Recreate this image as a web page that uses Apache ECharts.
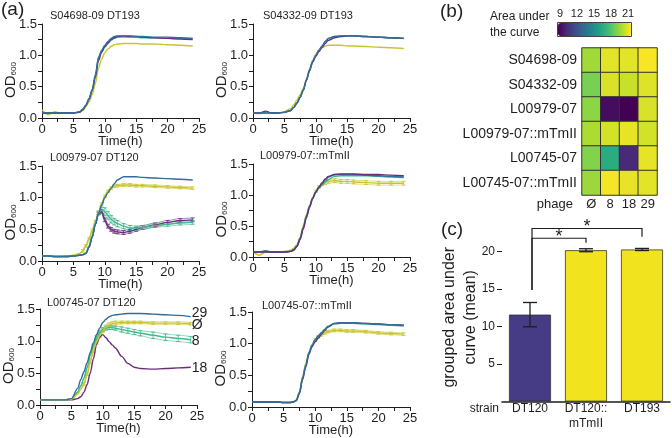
<!DOCTYPE html>
<html><head><meta charset="utf-8">
<script src="https://cdn.jsdelivr.net/npm/echarts@6/dist/echarts.min.js"></script>
<style>html,body{margin:0;padding:0;background:#fff}#c{width:672px;height:438px}</style>
</head><body><div id="c"></div>
<script>
// ---------- DATA ----------
const hours = [0,1,2,3,4,5,6, 6.5,7,7.5,8,8.5,9,9.5,10,10.5,11,11.5,12, 13,14,15,16, 18,20,22,24];

// (a) S04698-09 DT193
const s1Blue   = [0.08,0.08,0.08,0.08,0.08,0.08,0.10, 0.14,0.21,0.31,0.45,0.68,0.96,1.08,1.16,1.22,1.27,1.30,1.31, 1.31,1.31,1.30,1.30, 1.29,1.29,1.28,1.27];
const s1Purple = [0.08,0.08,0.08,0.08,0.08,0.08,0.09, 0.13,0.20,0.30,0.44,0.65,0.92,1.05,1.14,1.20,1.25,1.28,1.30, 1.31,1.30,1.30,1.29, 1.28,1.27,1.26,1.25];
const s1Green  = [0.08,0.08,0.08,0.08,0.08,0.08,0.10, 0.14,0.21,0.31,0.46,0.70,0.98,1.06,1.13,1.19,1.24,1.27,1.29, 1.29,1.29,1.29,1.28, 1.28,1.27,1.27,1.27];
const s1Yellow = [0.13,0.05,0.10,0.08,0.08,0.08,0.09, 0.12,0.18,0.26,0.37,0.55,0.80,0.94,1.04,1.10,1.14,1.17,1.18, 1.19,1.19,1.19,1.18, 1.18,1.17,1.16,1.15];
// S04332-09 DT193
const s2Blue   = [0.08,0.08,0.08,0.08,0.08,0.09,0.12, 0.17,0.24,0.33,0.44,0.60,0.76,0.90,1.00,1.08,1.15,1.22,1.27, 1.30,1.31,1.31,1.31, 1.30,1.29,1.28,1.27];
const s2Purple = [0.08,0.08,0.11,0.08,0.08,0.09,0.12, 0.17,0.24,0.33,0.44,0.60,0.75,0.89,0.98,1.06,1.13,1.19,1.24, 1.28,1.30,1.31,1.31, 1.30,1.29,1.28,1.27];
const s2Green  = [0.08,0.08,0.08,0.08,0.08,0.09,0.12, 0.17,0.24,0.33,0.45,0.61,0.77,0.91,1.00,1.08,1.15,1.22,1.27, 1.30,1.31,1.31,1.31, 1.30,1.29,1.28,1.27];
const s2Yellow = [0.08,0.07,0.09,0.08,0.08,0.10,0.15, 0.21,0.29,0.37,0.47,0.62,0.78,0.92,1.02,1.08,1.12,1.15,1.16, 1.16,1.16,1.15,1.15, 1.14,1.13,1.12,1.11];
// L00979-07 DT120
const s3Blue   = [0.08,0.08,0.07,0.07,0.07,0.08,0.09, 0.10,0.12,0.22,0.38,0.58,0.75,0.88,1.00,1.08,1.15,1.22,1.28, 1.33,1.33,1.33,1.32, 1.31,1.30,1.29,1.28];
const s3Yellow = [0.08,0.08,0.07,0.07,0.08,0.09,0.12, 0.16,0.24,0.35,0.48,0.62,0.76,0.90,1.02,1.10,1.15,1.18,1.19, 1.20,1.20,1.19,1.19, 1.18,1.17,1.16,1.15];
const s3Purple = [0.08,0.08,0.07,0.07,0.07,0.08,0.09, 0.10,0.12,0.22,0.38,0.58,0.75,0.78,0.65,0.55,0.50,0.47,0.46, 0.45,0.47,0.50,0.53, 0.57,0.61,0.64,0.65];
const s3Green  = [0.08,0.08,0.07,0.07,0.07,0.08,0.09, 0.10,0.13,0.24,0.40,0.60,0.76,0.80,0.78,0.72,0.66,0.62,0.59, 0.55,0.52,0.52,0.53, 0.56,0.58,0.60,0.61];
const s3YellowErr = [0,0,0,0,0,0,0, 0.02,0.02,0.02,0.02,0.02,0.02,0.02,0.02,0.02,0.02,0.02,0.02, 0.02,0.02,0.02,0.02, 0.02,0.02,0.02,0.02];
const s3PurpleErr = [0,0,0,0,0,0,0, 0,0,0,0,0,0.02,0.03,0.03,0.03,0.03,0.03,0.03, 0.03,0.03,0.03,0.03, 0.03,0.03,0.03,0.03];
const s3GreenErr  = [0,0,0,0,0,0,0, 0,0,0,0,0,0.03,0.05,0.06,0.06,0.06,0.05,0.05, 0.04,0.04,0.03,0.03, 0.03,0.03,0.03,0.03];
// L00979-07::mTmII
const s4Blue   = [0.08,0.08,0.10,0.08,0.08,0.08,0.09, 0.12,0.18,0.30,0.47,0.65,0.81,0.95,1.05,1.12,1.18,1.24,1.29, 1.33,1.33,1.33,1.33, 1.32,1.31,1.30,1.29];
const s4Purple = [0.08,0.08,0.08,0.08,0.08,0.08,0.09, 0.11,0.17,0.28,0.45,0.63,0.80,0.94,1.05,1.13,1.20,1.26,1.30, 1.33,1.34,1.34,1.34, 1.33,1.33,1.32,1.31];
const s4Green  = [0.08,0.08,0.08,0.08,0.08,0.08,0.09, 0.12,0.18,0.30,0.47,0.66,0.82,0.95,1.04,1.11,1.16,1.21,1.25, 1.30,1.31,1.31,1.31, 1.31,1.30,1.29,1.28];
const s4Yellow = [0.08,0.03,0.08,0.08,0.08,0.09,0.11, 0.14,0.20,0.32,0.50,0.68,0.83,0.96,1.06,1.13,1.17,1.20,1.22, 1.23,1.22,1.22,1.21, 1.20,1.19,1.19,1.19];
const s4YellowErr = [0,0,0,0,0,0,0, 0,0,0,0,0,0,0,0.02,0.02,0.02,0.03,0.03, 0.03,0.03,0.03,0.03, 0.03,0.03,0.03,0.03];
// L00745-07 DT120
const s5Blue   = [0.08,0.08,0.08,0.08,0.08,0.10,0.26, 0.40,0.52,0.66,0.82,0.97,1.10,1.20,1.29,1.34,1.38,1.40,1.41, 1.42,1.43,1.43,1.43, 1.42,1.41,1.40,1.38];
const s5Yellow = [0.08,0.08,0.08,0.08,0.08,0.09,0.17, 0.25,0.33,0.48,0.68,0.85,0.98,1.08,1.16,1.22,1.25,1.27,1.28, 1.29,1.29,1.29,1.29, 1.28,1.28,1.28,1.27];
const s5Green  = [0.08,0.08,0.08,0.08,0.08,0.09,0.20, 0.30,0.42,0.58,0.78,0.93,1.05,1.13,1.18,1.20,1.21,1.21,1.20, 1.18,1.16,1.14,1.12, 1.09,1.06,1.04,1.02];
const s5Purple = [0.08,0.08,0.08,0.08,0.08,0.08,0.10, 0.13,0.20,0.32,0.50,0.72,0.95,1.06,1.10,1.05,0.99,0.94,0.89, 0.76,0.65,0.59,0.57, 0.56,0.57,0.58,0.59];
const s5YellowErr = [0,0,0,0,0,0,0, 0,0.02,0.02,0.03,0.03,0.03,0.03,0.03,0.03,0.03,0.03,0.03, 0.02,0.02,0.02,0.02, 0.02,0.02,0.02,0.02];
const s5GreenErr  = [0,0,0,0,0,0,0, 0,0,0,0,0.02,0.03,0.03,0.03,0.03,0.03,0.03,0.03, 0.04,0.04,0.04,0.04, 0.05,0.05,0.05,0.05];
// L00745-07::mTmII
const s6Blue   = [0.08,0.08,0.08,0.08,0.08,0.07,0.07, 0.08,0.10,0.22,0.45,0.65,0.85,0.97,1.06,1.12,1.17,1.22,1.27, 1.32,1.33,1.33,1.33, 1.32,1.31,1.30,1.29];
const s6Purple = [0.08,0.08,0.08,0.08,0.08,0.07,0.07, 0.08,0.10,0.21,0.43,0.63,0.83,0.95,1.03,1.09,1.15,1.21,1.26, 1.32,1.33,1.33,1.33, 1.32,1.31,1.30,1.29];
const s6Green  = [0.08,0.08,0.08,0.08,0.08,0.07,0.07, 0.08,0.10,0.22,0.46,0.66,0.86,0.98,1.07,1.13,1.18,1.23,1.27, 1.31,1.32,1.32,1.32, 1.31,1.30,1.29,1.28];
const s6Yellow = [0.08,0.08,0.08,0.08,0.08,0.07,0.07, 0.08,0.11,0.24,0.48,0.68,0.86,0.98,1.06,1.11,1.14,1.17,1.19, 1.21,1.21,1.20,1.20, 1.19,1.17,1.16,1.15];
const s6YellowErr = [0,0,0,0,0,0,0, 0,0,0,0,0,0,0,0.02,0.02,0.02,0.02,0.02, 0.02,0.02,0.02,0.02, 0.02,0.02,0.02,0.02];

const xTicksA = [0, 25, 5];
const yTicksA = [0, 1.5, 0.5];

// (b) heatmap
const strains = ['S04698-09','S04332-09','L00979-07','L00979-07::mTmII','L00745-07','L00745-07::mTmII'];
const phages = ['Ø','8','18','29'];
const aucS04698  = [19.3, 20.5, 20.5, 20.9];
const aucS04332  = [18.5, 20.3, 20.0, 20.4];
const aucL00979  = [18.9, 9.4, 9.0, 20.3];
const aucL00979m = [19.5, 20.2, 20.6, 20.2];
const aucL00745  = [18.7, 16.4, 10.4, 20.6];
const aucL00745m = [19.2, 20.8, 20.6, 20.5];
const aucMin = 9, aucMax = 21;
const colorbarTicks = [9, 12, 15, 18, 21];

// (c) bars
const strainsC = ['DT120', 'DT120::\nmTmII', 'DT193'];
const meanAUC  = [11.6, 20.2, 20.3];
const semAUC   = [1.62, 0.20, 0.14];
const yTicksC  = [5, 10, 15, 20];
const sigFrom  = [0, 0];
const sigTo    = [1, 2];
const sigBarY  = [21.8, 23.1];
const sigDropY = [21.2, 22.0];
const sigStartY = 14.9;
const sigMark = '*';

// ---------- STYLE / LAYOUT ----------
const FF = '"Liberation Sans", Arial, Helvetica, sans-serif';
const INK = '#1e1e1e';
const COL = {blue:'#2f6e9d', purple:'#6b2c7e', green:'#3cba8b', yellow:'#c6c62c'};
const viridis = ['#440154','#482878','#3e4989','#31688e','#26828e','#1f9e89','#35b779','#6ece58','#b5de2b','#fde725'];
const barColors = ['#453c85', '#f1e31e', '#f1e31e'];
const endLabelShift = {'29':-4, 'Ø':1.5, '8':1, '18':1};

const panelsA = [
  {name:'S04698-09 DT193',  g:{left:42, top:24, width:157, height:94}, t:[50,10.5],
   curves:[['yellow',s1Yellow,null],['green',s1Green,null],['purple',s1Purple,null],['blue',s1Blue,null]]},
  {name:'S04332-09 DT193',  g:{left:253, top:24, width:157, height:94}, t:[263,10.5],
   curves:[['yellow',s2Yellow,null],['green',s2Green,null],['purple',s2Purple,null],['blue',s2Blue,null]]},
  {name:'L00979-07 DT120',  g:{left:42, top:166, width:157, height:95}, t:[50,152.5],
   curves:[['yellow',s3Yellow,s3YellowErr],['purple',s3Purple,s3PurpleErr],['green',s3Green,s3GreenErr],['blue',s3Blue,null]]},
  {name:'L00979-07::mTmII', g:{left:253, top:164, width:157, height:93}, t:[260,150],
   curves:[['yellow',s4Yellow,s4YellowErr],['green',s4Green,null],['blue',s4Blue,null],['purple',s4Purple,null]]},
  {name:'L00745-07 DT120',  g:{left:40, top:309, width:157, height:96}, t:[47,297.5],
   curves:[['purple',s5Purple,null,'18'],['green',s5Green,s5GreenErr,'8'],['yellow',s5Yellow,s5YellowErr,'Ø'],['blue',s5Blue,null,'29']]},
  {name:'L00745-07::mTmII', g:{left:252, top:312, width:158, height:95}, t:[262,300],
   curves:[['yellow',s6Yellow,s6YellowErr],['green',s6Green,null],['purple',s6Purple,null],['blue',s6Blue,null]]},
];

const grids = [], xAxes = [], yAxes = [], series = [], titles = [];
const axLine = {lineStyle:{color:INK, width:1}};

titles.push({text:'(a)', left:1, top:0, padding:0, textStyle:{fontSize:19, fontWeight:'normal', color:INK, fontFamily:FF}});
titles.push({text:'(b)', left:440, top:2, padding:0, textStyle:{fontSize:19, fontWeight:'normal', color:INK, fontFamily:FF}});
titles.push({text:'(c)', left:441, top:220, padding:0, textStyle:{fontSize:19, fontWeight:'normal', color:INK, fontFamily:FF}});
titles.push({text:'Area under\nthe curve', left:490, top:9, padding:0, textStyle:{fontSize:12, lineHeight:16, fontWeight:'normal', color:INK, fontFamily:FF}});

function errBars(gi, vals, errs, color) {
  const data = [];
  hours.forEach((h,k)=>{ if (errs[k] > 0) data.push([h, vals[k], errs[k]]); });
  return {type:'custom', xAxisIndex:gi, yAxisIndex:gi, silent:true, z:2, data,
    renderItem:(p, api)=>{
      const x = api.value(0), v = api.value(1), e = api.value(2);
      const lo = api.coord([x, v-e]), hi = api.coord([x, v+e]);
      const st = {stroke:color, lineWidth:1, opacity:0.8};
      return {type:'group', children:[
        {type:'line', shape:{x1:lo[0],y1:lo[1],x2:hi[0],y2:hi[1]}, style:st},
        {type:'line', shape:{x1:lo[0]-2,y1:lo[1],x2:lo[0]+2,y2:lo[1]}, style:st},
        {type:'line', shape:{x1:hi[0]-2,y1:hi[1],x2:hi[0]+2,y2:hi[1]}, style:st}]};
    }};
}

panelsA.forEach((pn, i) => {
  grids.push(Object.assign({outerBoundsMode:'none', containLabel:false}, pn.g));
  xAxes.push({gridIndex:i, type:'value', min:xTicksA[0], max:xTicksA[1], interval:xTicksA[2],
    axisLine:axLine, axisTick:{length:4, lineStyle:{color:INK}},
    minorTick:{show:true, splitNumber:2, length:4, lineStyle:{color:INK}},
    splitLine:{show:false}, minorSplitLine:{show:false},
    axisLabel:{fontSize:13, margin:5, color:INK, fontFamily:FF},
    name:'Time(h)', nameLocation:'middle', nameGap:17, nameMoveOverlap:false,
    nameTextStyle:{fontSize:13, color:INK, fontFamily:FF}});
  yAxes.push({gridIndex:i, type:'value', min:yTicksA[0], max:yTicksA[1], interval:yTicksA[2],
    axisLine:Object.assign({show:true}, axLine), axisTick:{show:true, length:4, lineStyle:{color:INK}},
    minorTick:{show:true, splitNumber:2, length:4, lineStyle:{color:INK}},
    splitLine:{show:false}, minorSplitLine:{show:false},
    axisLabel:{fontSize:13, margin:5, color:INK, fontFamily:FF, formatter:v=>v.toFixed(1)},
    name:'{a|OD}{b|600}', nameLocation:'middle', nameGap:24, nameMoveOverlap:false,
    nameTextStyle:{padding:[0,18,0,0], rich:{a:{fontSize:15, color:INK, fontFamily:FF},
      b:{fontSize:8, color:INK, fontFamily:FF, verticalAlign:'bottom', padding:[5,0,0,0]}}}});
  titles.push({text:pn.name, left:pn.t[0], top:pn.t[1], padding:0,
    textStyle:{fontSize:11, fontWeight:'normal', color:INK, fontFamily:FF}});
  pn.curves.forEach(([c, vals, errs, lab]) => {
    const color = COL[c];
    if (errs) {
      series.push(errBars(i, vals, errs, color));
      series.push({type:'line', xAxisIndex:i, yAxisIndex:i, silent:true, showSymbol:false, z:2,
        smooth:0.3, smoothMonotone:'x', lineStyle:{width:0.8, color, opacity:0.7},
        data:hours.map((h,k)=>[h, vals[k]+errs[k]])});
      series.push({type:'line', xAxisIndex:i, yAxisIndex:i, silent:true, showSymbol:false, z:2,
        smooth:0.3, smoothMonotone:'x', lineStyle:{width:0.8, color, opacity:0.7},
        data:hours.map((h,k)=>[h, vals[k]-errs[k]])});
    }
    const s = {type:'line', name:lab || c, xAxisIndex:i, yAxisIndex:i, silent:true, showSymbol:false, z:3,
      smooth:0.3, smoothMonotone:'x', lineStyle:{width:1.4, color}, itemStyle:{color},
      data:hours.map((h,k)=>[h, vals[k]])};
    if (lab) s.endLabel = {show:true, formatter:'{a}', distance:1, offset:[0, endLabelShift[lab]],
      fontSize:14, color:INK, fontFamily:FF};
    if (lab) s.labelLayout = {hideOverlap:false};
    series.push(s);
  });
});

// (b) heatmap: grid 6
grids.push({left:582, top:48, width:75, height:147, outerBoundsMode:'none'});
xAxes.push({gridIndex:6, type:'category', data:phages, axisLine:{show:false}, axisTick:{show:false},
  axisLabel:{interval:0, fontSize:13, margin:3, color:INK, fontFamily:FF}, splitLine:{show:false},
  name:'phage', nameLocation:'start', nameGap:9, nameMoveOverlap:false,
  nameTextStyle:{fontSize:13, color:INK, fontFamily:FF, verticalAlign:'top', padding:[3,0,0,0]}});
yAxes.push({gridIndex:6, type:'category', data:strains, inverse:true, axisLine:{show:false}, axisTick:{show:false},
  axisLabel:{interval:0, fontSize:14, margin:5, color:INK, fontFamily:FF}, splitLine:{show:false}});
const heatData = [];
[aucS04698, aucS04332, aucL00979, aucL00979m, aucL00745, aucL00745m].forEach((row, r) =>
  row.forEach((v, c) => heatData.push([c, r, v])));
const heatIdx = series.length;
series.push({type:'heatmap', xAxisIndex:6, yAxisIndex:6, data:heatData, silent:true,
  itemStyle:{borderColor:'#333', borderWidth:1}, emphasis:{disabled:true}});

// (c) bar chart: grid 7
grids.push({left:502, top:233, width:168, height:168.5, outerBoundsMode:'none'});
xAxes.push({gridIndex:7, type:'category', data:strainsC, axisLine:{lineStyle:{color:INK, width:1.5}},
  axisTick:{show:false}, axisLabel:{interval:0, fontSize:12, margin:0, lineHeight:15, color:INK, fontFamily:FF},
  name:'strain', nameLocation:'start', nameGap:3, nameMoveOverlap:false,
  nameTextStyle:{fontSize:12, lineHeight:15, color:INK, fontFamily:FF, verticalAlign:'top', padding:[0,0,0,0]}});
yAxes.push({gridIndex:7, type:'value', min:0, max:22.5, axisLine:{show:false},
  axisTick:{show:true, customValues:yTicksC, length:5, lineStyle:{color:INK}},
  axisLabel:{customValues:yTicksC, fontSize:12, margin:7, color:INK, fontFamily:FF},
  splitLine:{show:false},
  name:'grouped area under\ncurve (mean)', nameLocation:'middle', nameGap:21, nameMoveOverlap:false,
  nameTextStyle:{fontSize:16, lineHeight:21, color:INK, fontFamily:FF}});
series.push({type:'bar', xAxisIndex:7, yAxisIndex:7, barWidth:42, silent:true,
  data:meanAUC.map((v,i)=>({value:v, itemStyle:{color:barColors[i], borderColor:'#333', borderWidth:0.8}}))});
series.push({type:'custom', xAxisIndex:7, yAxisIndex:7, silent:true, z:5,
  data:meanAUC.map((m,i)=>[i, m, semAUC[i]]),
  renderItem:(p, api)=>{
    const i = api.value(0), m = api.value(1), e = api.value(2);
    const lo = api.coord([i, m-e]), hi = api.coord([i, m+e]);
    const st = {stroke:INK, lineWidth:1.3};
    return {type:'group', children:[
      {type:'line', shape:{x1:lo[0],y1:lo[1],x2:hi[0],y2:hi[1]}, style:st},
      {type:'line', shape:{x1:lo[0]-7,y1:lo[1],x2:lo[0]+7,y2:lo[1]}, style:st},
      {type:'line', shape:{x1:hi[0]-7,y1:hi[1],x2:hi[0]+7,y2:hi[1]}, style:st}]};
  }});
series.push({type:'custom', xAxisIndex:7, yAxisIndex:7, silent:true, z:5,
  data:sigFrom.map((f,k)=>[f, sigTo[k], sigBarY[k], sigDropY[k]]),
  renderItem:(p, api)=>{
    const f = api.value(0), t = api.value(1), yb = api.value(2), yd = api.value(3);
    const a = api.coord([f, sigStartY]), b = api.coord([f, yb]), c = api.coord([t, yb]), d = api.coord([t, yd]);
    return {type:'group', children:[
      {type:'polyline', shape:{points:[[a[0]+2,a[1]],[b[0]+2,b[1]],c,d]}, style:{stroke:INK, lineWidth:1.2, fill:null}},
      {type:'text', x:(b[0]+c[0])/2 + 1, y:b[1]-1, style:{text:sigMark, fontSize:18, fill:INK, fontFamily:FF, align:'center', verticalAlign:'middle'}}]};
  }});

// colorbar axis: grid 8
grids.push({left:557.5, top:22.5, width:74, height:14, show:true, borderColor:'#444', borderWidth:1,
  backgroundColor:'transparent', outerBoundsMode:'none'});
xAxes.push({gridIndex:8, type:'value', min:8.57, max:21.6, position:'top', axisLine:{show:false},
  axisTick:{show:false}, splitLine:{show:false},
  axisLabel:{customValues:colorbarTicks, fontSize:11, margin:3, color:INK, fontFamily:FF}});
yAxes.push({gridIndex:8, type:'value', show:false});

const chart = echarts.init(document.getElementById('c'), null, {renderer:'canvas'});
chart.setOption({
  animation:false,
  backgroundColor:'#fff',
  textStyle:{fontFamily:FF},
  title:titles,
  grid:grids, xAxis:xAxes, yAxis:yAxes,
  visualMap:[{type:'continuous', min:aucMin, max:aucMax, seriesIndex:heatIdx, orient:'horizontal',
    left:558, top:23, itemWidth:13, itemHeight:73, padding:0, calculable:false, realtime:false,
    hoverLink:false, inRange:{color:viridis}, textStyle:{fontSize:1}}],
  series
});
</script></body></html>
